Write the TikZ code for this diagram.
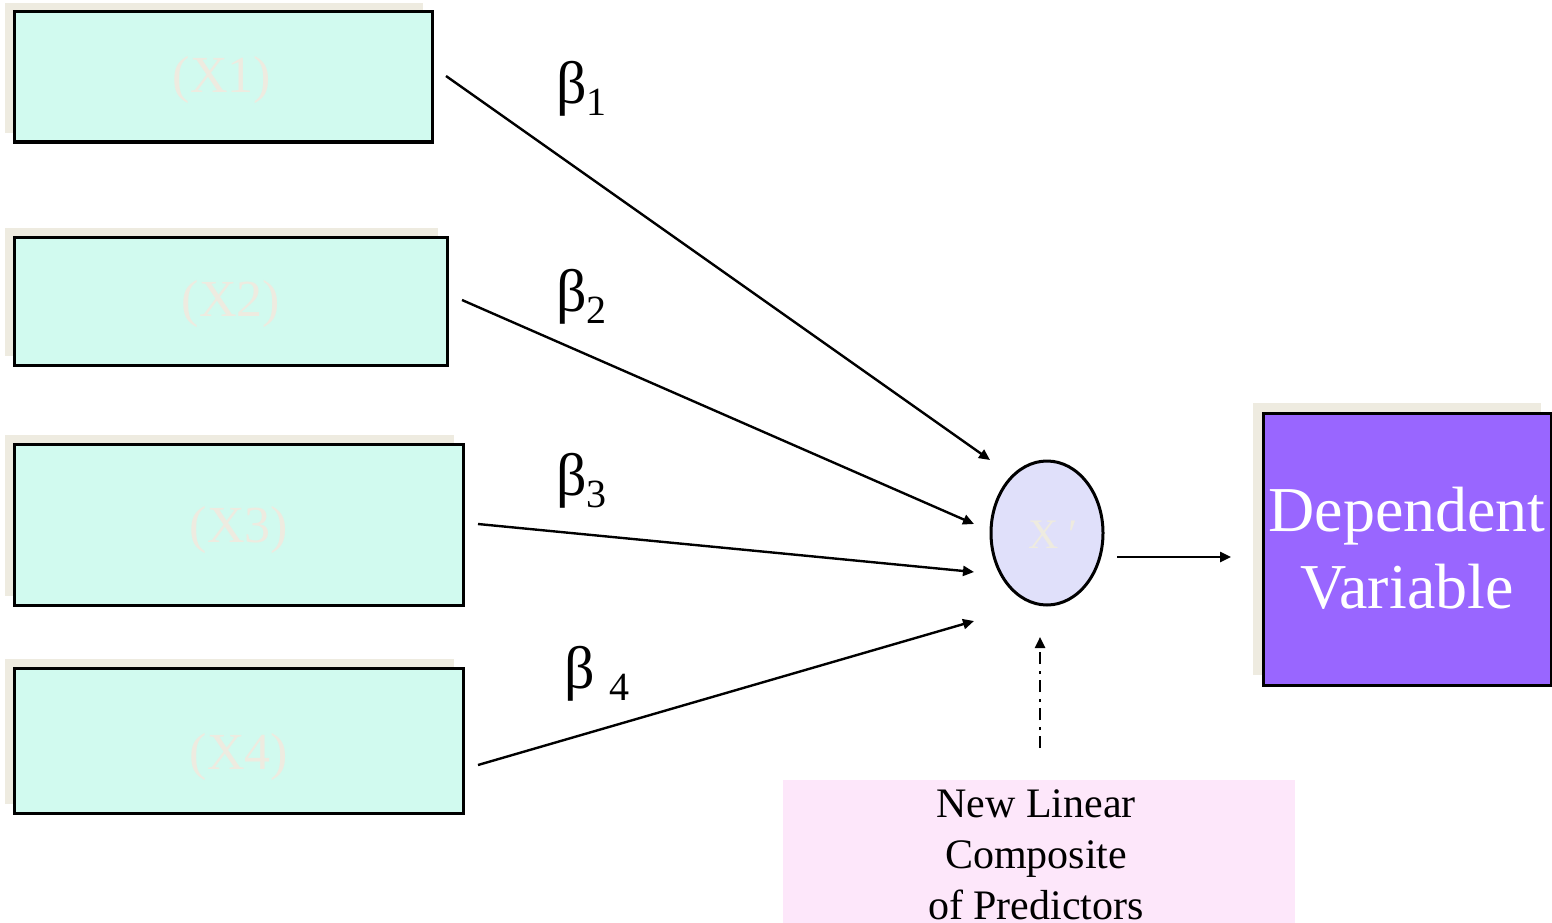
\documentclass[tikz,border=0pt]{standalone}
\usepackage{fontspec}
\setmainfont{Liberation Serif}
\usetikzlibrary{arrows.meta,shadows,shapes.geometric}

\definecolor{predfill}{RGB}{209,250,239}
\definecolor{shadowc}{RGB}{238,235,224}
\definecolor{compfill}{RGB}{224,224,250}
\definecolor{depfill}{RGB}{153,102,255}
\definecolor{notefill}{RGB}{253,231,250}

\newcommand\betasub[2]{{\fontsize{60}{60}\selectfont β}#1\raisebox{-12pt}{\fontsize{40}{40}\selectfont #2}}

\tikzset{
  predbox/.style={draw=black, line width=3pt, fill=predfill, rectangle,
    inner sep=0pt,
    general shadow={fill=shadowc, shadow xshift=-9pt, shadow yshift=9pt}},
  predtext/.style={text=shadowc, font=\fontsize{52}{52}\selectfont, inner sep=0pt},
  link/.style={line width=2.4pt, -{Triangle[length=11pt,width=10pt]}},
  weight/.style={anchor=base west, inner sep=0pt},
}

\begin{document}
\begin{tikzpicture}[x=1pt,y=-1pt]
\useasboundingbox (0,0) rectangle (1552,923);

% predictor boxes
\node[predbox, minimum width=418pt, minimum height=130pt] (x1) at (223,77) {};
\node[predbox, minimum width=433pt, minimum height=128pt] (x2) at (230.5,301) {};
\node[predbox, minimum width=449pt, minimum height=161pt] (x3) at (238.5,524.5) {};
\node[predbox, minimum width=449pt, minimum height=145pt] (x4) at (238.5,740.5) {};

\node[predtext] (t1) at (222,80) {(X1)};
\node[predtext] (t2) at (231,304) {(X2)};
\node[predtext] (t3) at (239,530) {(X3)};
\node[predtext] (t4) at (239,757) {(X4)};

% composite
\node[ellipse, draw=black, line width=3pt, fill=compfill,
      minimum width=112pt, minimum height=144pt, inner sep=0pt] (xp) at (1047,533) {};
\node[text=shadowc, font=\fontsize{42}{42}\selectfont, anchor=base, inner sep=0pt]
      (xpt) at (1053,548) {X ′};

% dependent variable
\node[draw=black, line width=3pt, fill=depfill, rectangle, inner sep=0pt,
      minimum width=288pt, minimum height=272pt,
      general shadow={fill=shadowc, shadow xshift=-10pt, shadow yshift=10pt}]
      (dv) at (1407,549) {};
\node[text=white, font=\fontsize{64}{77}\selectfont, align=center, inner sep=0pt,
      anchor=north] (dvt) at (1407,487) {Dependent\\Variable};

% note box
\node[fill=notefill, rectangle, inner sep=0pt, minimum width=512pt,
      minimum height=143pt, anchor=north west] (note) at (783,780) {};
\node[font=\fontsize{42}{51}\selectfont, align=center, inner sep=0pt,
      anchor=north] (notet) at (1036,789) {New Linear\\Composite\\of Predictors};

% weights
\node[weight] (b1) at (556,104) {\betasub{}{1}};
\node[weight] (b2) at (556,311) {\betasub{}{2}};
\node[weight] (b3) at (556,495) {\betasub{}{3}};
\node[weight] (b4) at (564,688) {\betasub{\hspace{15pt}}{4}};

% connector end points
\coordinate (s1) at (446,76);   \coordinate (e1) at (990,460);
\coordinate (s2) at (462,300);  \coordinate (e2) at (974,524);
\coordinate (s3) at (478,524);  \coordinate (e3) at (974,572);
\coordinate (s4) at (478,765);  \coordinate (e4) at (974,621);
\coordinate (s5) at (1117,557); \coordinate (e5) at (1231,557);
\coordinate (s6) at (1040,748); \coordinate (e6) at (1040,637);

\draw[link] (s1) -- (e1);
\draw[link] (s2) -- (e2);
\draw[link] (s3) -- (e3);
\draw[link] (s4) -- (e4);
\draw[link] (s5) -- (e5);
\draw[link, dash pattern=on 12pt off 6pt on 3pt off 7pt] (s6) -- (e6);
\end{tikzpicture}
\end{document}
